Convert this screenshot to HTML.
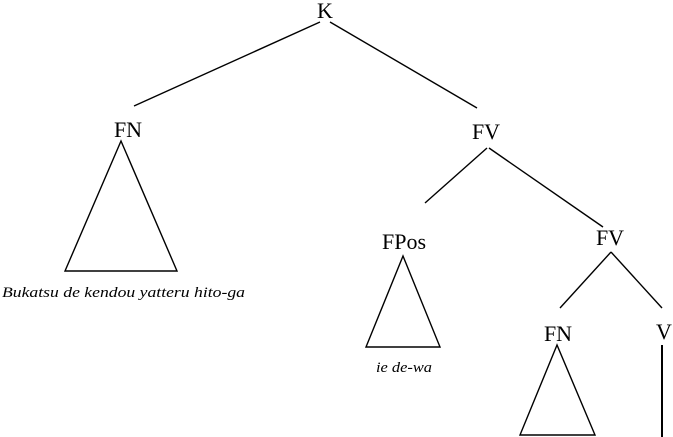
<!DOCTYPE html>
<html><head><style>body{margin:0;background:#fff}svg{display:block}</style></head><body>
<svg width="673" height="437" viewBox="0 0 673 437" xmlns="http://www.w3.org/2000/svg" font-family="Liberation Serif, serif" font-size="22" fill="#000">
<g stroke="#000" stroke-width="1.4" fill="none">
<line x1="320" y1="22" x2="134" y2="106"/>
<line x1="330" y1="22" x2="477" y2="108"/>
<polygon points="121,141 65,271 177,271"/>
<line x1="487" y1="148" x2="425" y2="203"/>
<line x1="489" y1="148" x2="603" y2="227"/>
<polygon points="403,256 366,347 440,347"/>
<line x1="611" y1="252" x2="560" y2="308"/>
<line x1="611" y1="252" x2="662" y2="308"/>
<polygon points="557,345 520,435 595,435"/>
<line x1="662" y1="345" x2="662" y2="437" stroke-width="2"/>
</g>
<g text-anchor="middle">
<text x="325" y="18">K</text>
<text x="128" y="137">FN</text>
<text x="486" y="139">FV</text>
<text x="404" y="249">FPos</text>
<text x="610" y="245">FV</text>
<text x="558" y="341">FN</text>
<text x="664" y="339">V</text>
</g>
<text x="2" y="297" font-size="15" font-style="italic" textLength="243" lengthAdjust="spacingAndGlyphs">Bukatsu de kendou  yatteru hito-ga</text>
<text x="376" y="372" font-size="15" font-style="italic" textLength="56" lengthAdjust="spacingAndGlyphs">ie de-wa</text>
</svg>
</body></html>
